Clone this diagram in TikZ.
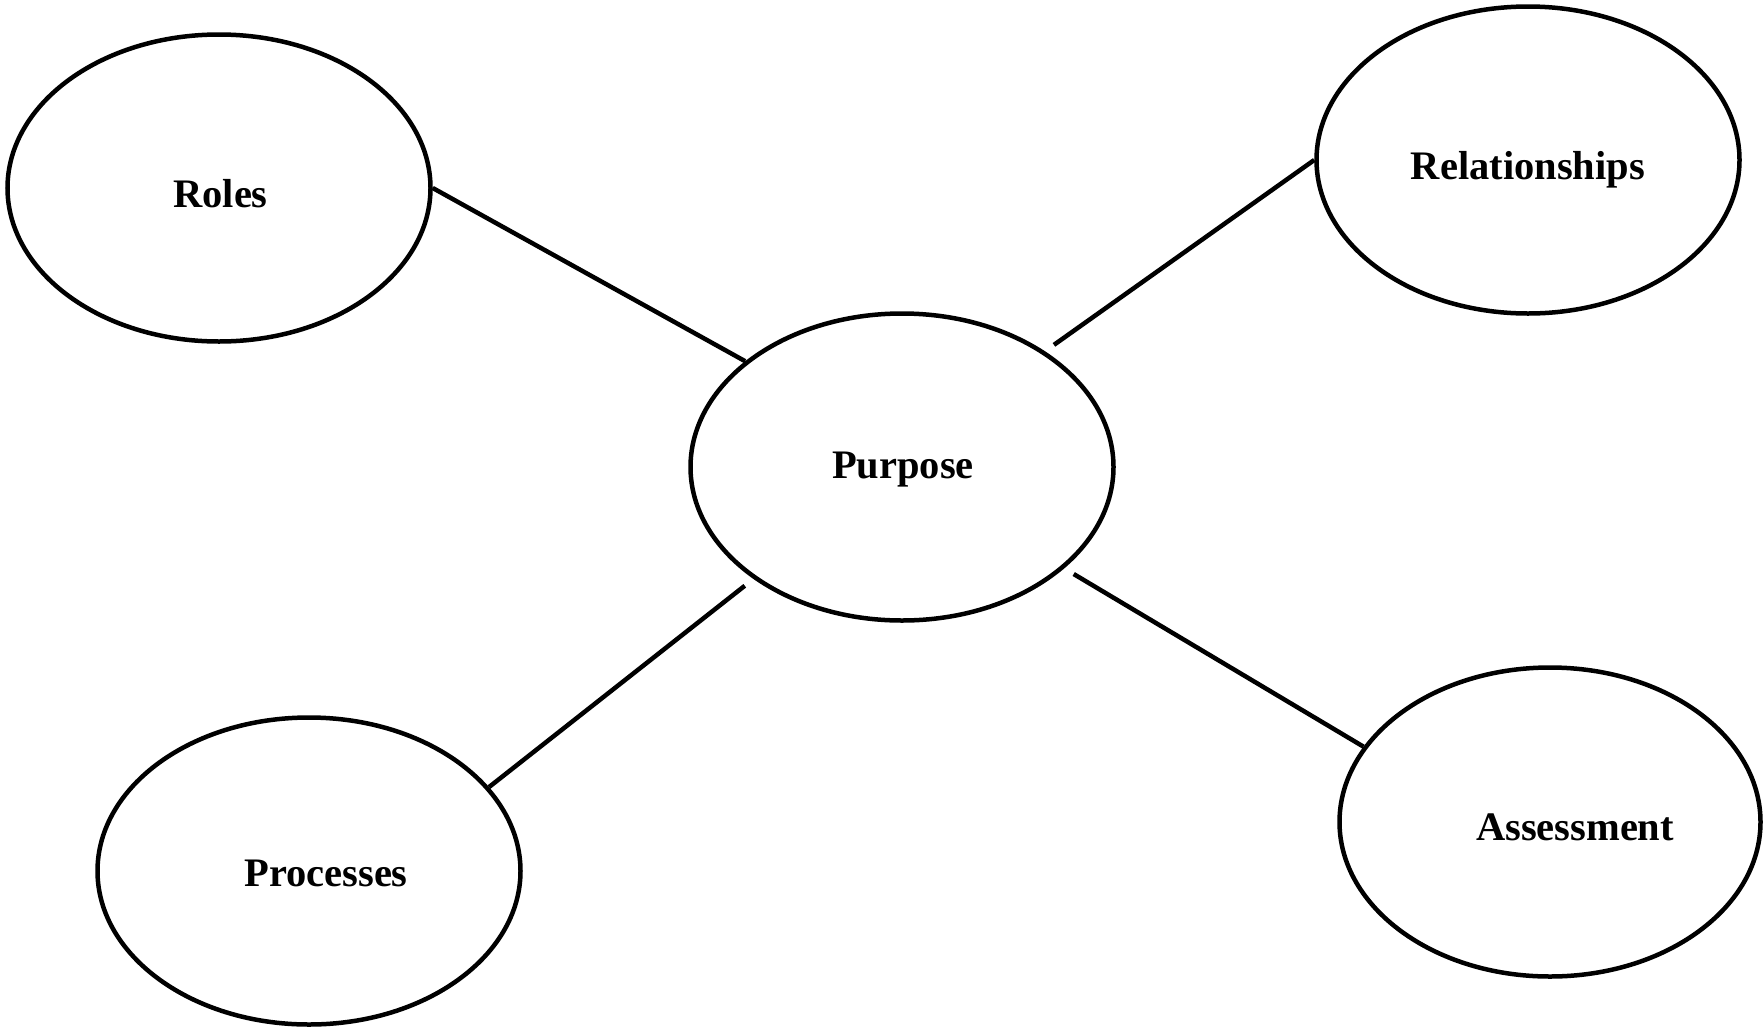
\documentclass[tikz,border=0pt]{standalone}
\usepackage{fontspec}
\setmainfont{Liberation Serif}
\usetikzlibrary{shapes.geometric}
\begin{document}
\begin{tikzpicture}[x=1pt,y=-1pt,
  bubble/.style={draw=black,line width=4.5pt,ellipse,inner sep=0pt,minimum width=423pt,minimum height=307pt},
  lbl/.style={font=\fontsize{40.5}{48}\selectfont\bfseries,inner sep=0pt},
  link/.style={draw=black,line width=4.5pt}]
\useasboundingbox (0,0) rectangle (1764,1029);
\node[bubble] (roles) at (219,188) {};
\node[bubble] (rel) at (1528,160) {};
\node[bubble] (purpose) at (902,467) {};
\node[bubble] (proc) at (309,871) {};
\node[bubble,minimum width=421pt,minimum height=309pt] (assess) at (1550,822) {};
\node[lbl] (troles) at (220.5,193.5) {Roles};
\node[lbl] (trel) at (1528,170) {Relationships};
\node[lbl] (tpurpose) at (903,469.5) {Purpose};
\node[lbl] (tproc) at (326,873) {Processes};
\node[lbl] (tassess) at (1575,827) {Assessment};
\draw[link] (roles.east) -- (purpose.146);
\draw[link,shorten >=11pt] (rel.west) -- (purpose.39);
\draw[link,shorten >=11pt] (proc.25) -- (purpose.217);
\draw[link,shorten <=11pt] (purpose.-32) -- (assess.158);
\end{tikzpicture}
\end{document}
